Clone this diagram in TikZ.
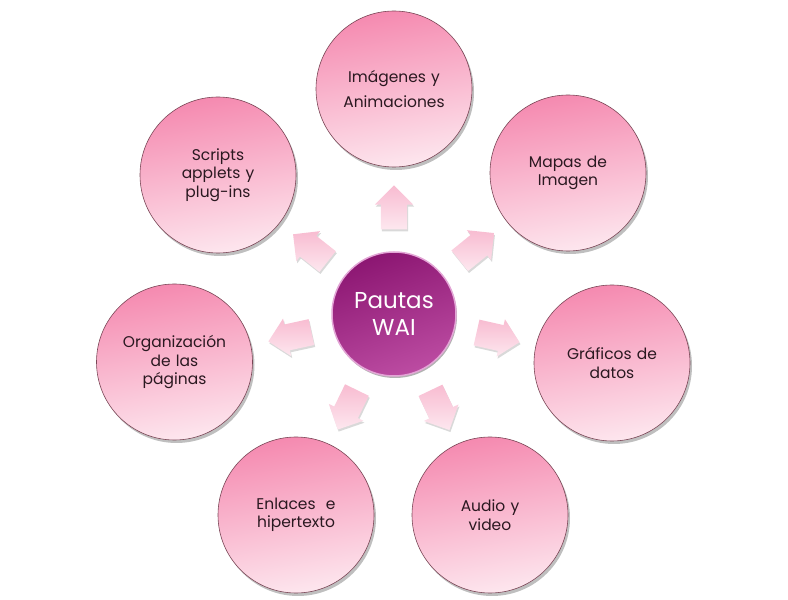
\documentclass[tikz,border=0pt]{standalone}
\usepackage{fontspec}
\setmainfont{Poppins}
\usetikzlibrary{shapes.arrows,shadows,calc}
\definecolor{pinktop}{HTML}{F58AB0}
\definecolor{pinkbot}{HTML}{FDE6EE}
\definecolor{pinkline}{HTML}{7A4656}
\definecolor{magtop}{HTML}{8C1672}
\definecolor{magbot}{HTML}{BC4CA2}
\definecolor{magring}{HTML}{E3A6D6}
\definecolor{arrtop}{HTML}{F8BCD1}
\definecolor{arrbot}{HTML}{FDE7EF}
\definecolor{txt}{HTML}{2A1820}
\begin{document}
\begin{tikzpicture}[x=1pt,y=1pt,
  outer/.style={circle, minimum size=156pt, inner sep=0pt, draw=pinkline, line width=0.6pt,
    top color=pinktop, bottom color=pinkbot, shading angle=10,
    drop shadow={shadow xshift=2pt, shadow yshift=-3pt, opacity=0.25, fill=black},
    text=txt, font=\fontsize{15.5}{18.5}\selectfont, align=center, text width=120pt},
  hub/.style={circle, minimum size=124pt, inner sep=0pt, draw=magring, line width=1.5pt,
    top color=magtop, bottom color=magbot, shading angle=20,
    drop shadow={shadow xshift=1pt, shadow yshift=-2pt, opacity=0.3, fill=black},
    text=white, font=\fontsize{23}{27}\selectfont, align=center},
  blockarrow/.style={single arrow, minimum height=44pt, inner xsep=0pt, inner ysep=13pt,
    single arrow head extend=6pt, single arrow tip angle=90,
    top color=arrtop, bottom color=arrbot, draw=none,
    drop shadow={shadow xshift=1pt, shadow yshift=-2pt, opacity=0.15, fill=black}}
]
\useasboundingbox (0,0) rectangle (788,600);
\node[hub] (c) at (394,286) {Pautas\\WAI};
\node[outer, font=\fontsize{15.5}{25}\selectfont] (img) at (394,511) {Imágenes y\\Animaciones};
\node[outer] (map) at (568,427) {Mapas de\\Imagen};
\node[outer] (gra) at (612,237) {Gráficos de\\datos};
\node[outer] (aud) at (490,85) {Audio y\\video};
\node[outer] (enl) at (296,85) {Enlaces\ \ e\\hipertexto};
\node[outer] (org) at (174.5,238) {Organización\\de las\\páginas};
\node[outer] (scr) at (218,425) {Scripts\\applets y\\plug-ins};
\node[blockarrow, rotate=90] (a1) at ($(c)!100pt!(img)$) {};
\node[blockarrow, rotate=39] (a2) at ($(c)!100pt!(map)$) {};
\node[blockarrow, rotate=-12.7] (a3) at ($(c)!100pt!(gra)$) {};
\node[blockarrow, rotate=-64.5] (a4) at ($(c)!100pt!(aud)$) {};
\node[blockarrow, rotate=-116] (a5) at ($(c)!100pt!(enl)$) {};
\node[blockarrow, rotate=192.3] (a6) at ($(c)!100pt!(org)$) {};
\node[blockarrow, rotate=141.7] (a7) at ($(c)!100pt!(scr)$) {};
\end{tikzpicture}
\end{document}
